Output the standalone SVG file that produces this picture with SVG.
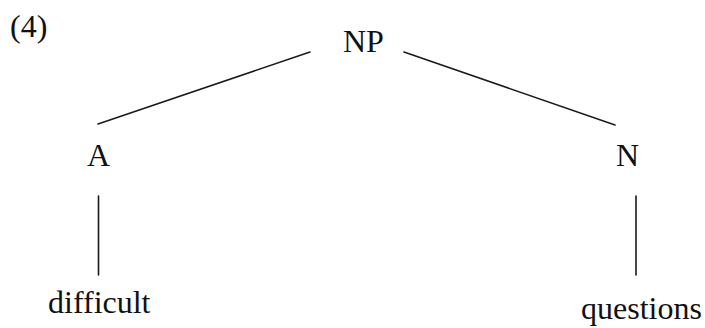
<svg xmlns="http://www.w3.org/2000/svg" width="705" height="328" viewBox="0 0 705 328">
<style>
text{font-family:"Liberation Serif","Times New Roman",serif;font-size:32px;fill:#111}
.e{stroke:#1a1a1a;stroke-width:1.6;fill:none;stroke-linecap:round}
</style>
<rect width="705" height="328" fill="#fff"/>
<text id="label" x="10" y="37">(4)</text>
<g id="connectors">
<line class="e" x1="310" y1="52" x2="98" y2="124"/>
<line class="e" x1="404" y1="52" x2="615" y2="125"/>
<line class="e" x1="98.5" y1="196" x2="98.5" y2="275"/>
<line class="e" x1="636" y1="196" x2="636" y2="275"/>
</g>
<g id="NP"><text x="343" y="52">NP</text></g>
<g id="A"><text x="87" y="166">A</text></g>
<g id="N"><text x="616" y="166">N</text></g>
<g id="difficult"><text x="48" y="313">difficult</text></g>
<g id="questions"><text x="581" y="319">questions</text></g>
</svg>
